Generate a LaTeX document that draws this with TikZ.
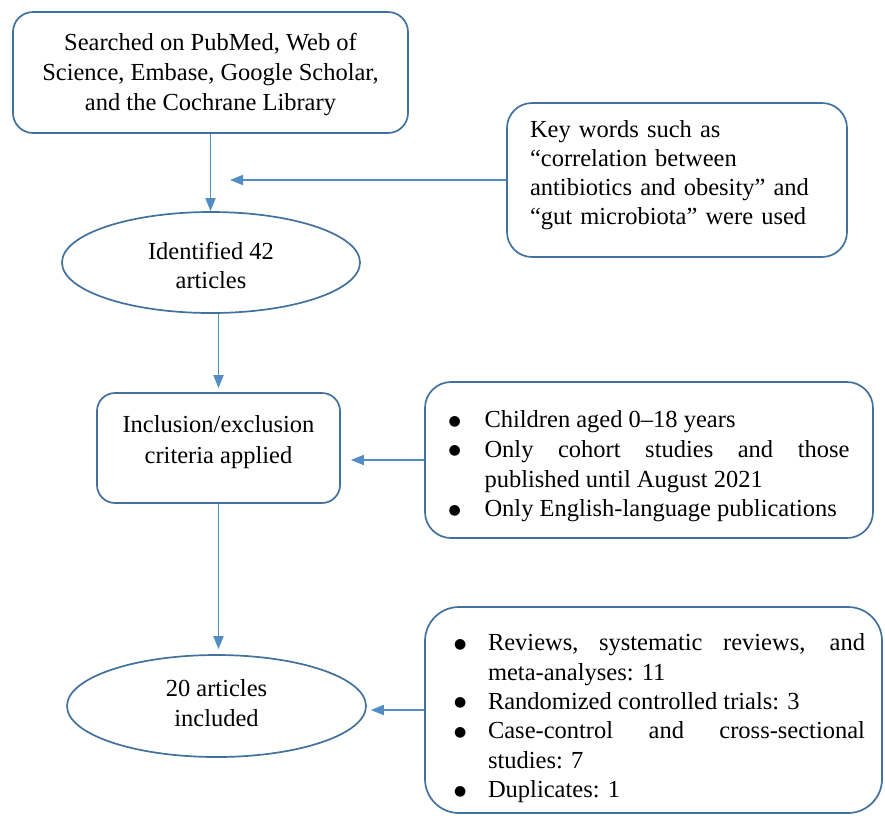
\documentclass[tikz,border=0pt]{standalone}
\usepackage{fontspec}
\setmainfont{Liberation Serif}
\newfontfamily\bulfont{DejaVu Sans}
\usetikzlibrary{shapes.geometric,arrows.meta}
\definecolor{bord}{RGB}{65,113,156}
\definecolor{arrc}{RGB}{84,141,196}
\newlength\bhang
\newcommand{\bigbul}{\raisebox{2.5pt}{\bulfont\fontsize{14}{14}\selectfont ●}}
\newcommand{\bitem}[1]{\par\hangindent=\bhang\hangafter=1\noindent\makebox[\bhang][l]{\bigbul}#1\par}
\hyphenpenalty=10000
\exhyphenpenalty=10000
\tolerance=9999
\begin{document}
\begin{tikzpicture}[x=1pt,y=-1pt,
  rbox/.style={draw=bord, line width=1.7pt, rounded corners=#1, inner sep=0pt},
  oval/.style={ellipse, draw=bord, line width=1.7pt, inner sep=0pt, align=center},
  arr/.style={draw=arrc, line width=1.8pt, -{Triangle[length=13pt,width=10pt]}}]
\useasboundingbox (0,0) rectangle (885,815);

\node[rbox=20pt, minimum width=395pt, minimum height=121pt, align=center,
      font=\fontsize{24.5}{30}\selectfont] (search) at (210.5,72.5)
  {\rule{0pt}{20.3pt}Searched on PubMed, Web of\\Science, Embase, Google Scholar,\\and the Cochrane Library};

\node[oval, minimum width=298pt, minimum height=101pt,
      font=\fontsize{24.5}{29}\selectfont] (ident) at (211,262.5)
  {\rule{0pt}{23.2pt}Identified 42\\articles};

\node[rbox=25pt, minimum width=340pt, minimum height=154pt, text width=294pt, align=left,
      font=\fontsize{24.5}{29}\selectfont] (kw) at (677,180)
  {Key words such as\\“correlation between\\antibiotics and obesity” and\\“gut microbiota” were used\rule[-14.5pt]{0pt}{0pt}};

\node[rbox=18pt, minimum width=243pt, minimum height=110pt, align=center,
      font=\fontsize{24.5}{31}\selectfont] (incl) at (218.5,448)
  {Inclusion/exclusion\\criteria applied\rule[-17.5pt]{0pt}{0pt}};

\node[rbox=26pt, minimum width=448pt, minimum height=156pt, text width=401pt, align=justify,
      font=\fontsize{24.5}{29.7}\selectfont] (crit) at (649,460)
  {\setlength\bhang{36pt}%
   \bitem{Children aged 0–18 years}%
   \bitem{Only cohort studies and those published until August 2021}%
   \bitem{Only English-language publications}};

\node[oval, minimum width=299pt, minimum height=102pt,
      font=\fontsize{24.5}{30}\selectfont] (inc20) at (216.5,706)
  {20 articles\\included\rule[-5.4pt]{0pt}{0pt}};

\node[rbox=34pt, minimum width=457pt, minimum height=206pt, text width=423pt, align=justify,
      font=\fontsize{24.5}{29.4}\selectfont] (res) at (653.5,710)
  {\setlength\bhang{34pt}\leftskip=12pt\relax
   \bitem{Reviews,\rule{0pt}{32.4pt} systematic reviews, and meta-analyses: 11}%
   \bitem{Randomized controlled trials: 3}%
   \bitem{Case-control and cross-sectional studies: 7}%
   \bitem{Duplicates: 1}};

\coordinate (kwtip) at (230,180);

\draw[arr] (search.south) -- (search.south |- ident.north);
\draw[arr] (kw.west) -- (kwtip);
\draw[arr, shorten >=4pt] (incl.north |- ident.south) -- (incl.north);
\draw[arr, shorten >=10pt] (crit.west) -- (crit.west -| incl.east);
\draw[arr, shorten >=5pt] (incl.south) -- (incl.south |- inc20.north);
\draw[arr, shorten >=4pt] (res.west) -- (res.west -| inc20.east);
\end{tikzpicture}
\end{document}
